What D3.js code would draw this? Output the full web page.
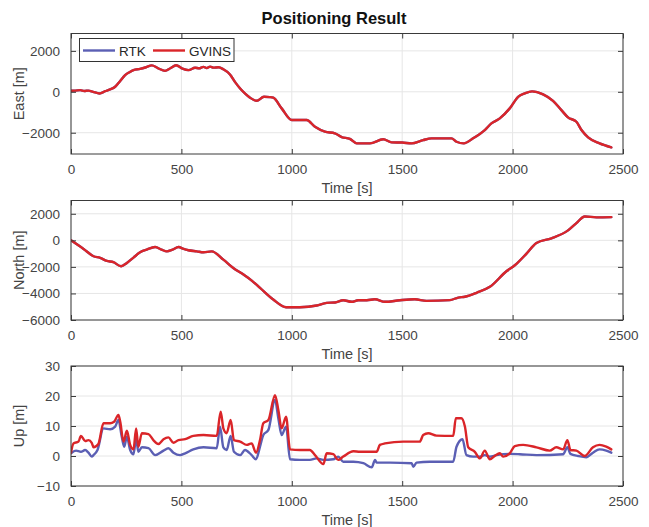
<!DOCTYPE html>
<html>
<head>
<meta charset="utf-8">
<script src="https://cdn.jsdelivr.net/npm/d3@7"></script>
<style>
  html, body { margin: 0; padding: 0; background: #fff; }
  svg { display: block; }
  text { font-family: "Liberation Sans", Arial, Helvetica, sans-serif; }
</style>
</head>
<body>
<svg id="chart" width="649" height="527"></svg>
<script>
// ---- data ------------------------------------------------------------
const timeTicks = [0, 500, 1000, 1500, 2000, 2500];
const eastTicks = [-2000, 0, 2000];
const northTicks = [-6000, -4000, -2000, 0, 2000];
const upTicks = [-10, 0, 10, 20, 30];

const seriesNames = ["RTK", "GVINS"];
const seriesColors = ["#5b5fb4", "#da2529"];

// East [m] (RTK and GVINS tracks coincide at this scale)
const eastTime = [0,20,42,60,79,100,129,155,177,200,222,245,265,283,313,340,366,395,426,450,476,505,532,562,580,600,615,630,645,668,690,720,745,766,790,811,841,874,900,916,954,1000,1067,1105,1150,1195,1226,1263,1294,1354,1414,1452,1500,1542,1595,1633,1723,1746,1779,1821,1874,1904,1942,1987,2025,2055,2088,2138,2183,2221,2251,2289,2312,2342,2394,2447];
const eastRTK = [50,60,80,40,60,0,-80,30,120,245,520,815,960,1060,1120,1200,1290,1150,1025,1150,1300,1130,1060,1175,1150,1220,1160,1230,1180,1200,1100,850,450,165,-100,-290,-440,-245,-260,-290,-810,-1380,-1380,-1710,-1950,-2030,-2210,-2300,-2520,-2520,-2320,-2470,-2480,-2520,-2360,-2275,-2275,-2440,-2520,-2275,-1870,-1545,-1300,-810,-245,-80,20,-125,-440,-895,-1250,-1465,-1870,-2225,-2520,-2715];
const eastGVINS = [50,60,80,40,60,0,-80,30,120,245,520,815,960,1060,1120,1200,1290,1150,1025,1150,1300,1130,1060,1175,1150,1220,1160,1230,1180,1200,1100,850,450,165,-100,-290,-440,-245,-260,-290,-810,-1380,-1380,-1710,-1950,-2030,-2210,-2300,-2520,-2520,-2320,-2470,-2480,-2520,-2360,-2275,-2275,-2440,-2520,-2275,-1870,-1545,-1300,-810,-245,-80,20,-125,-440,-895,-1250,-1465,-1870,-2225,-2520,-2715];

// North [m]
const northTime = [0,57,102,132,162,192,227,253,283,313,343,381,410,434,460,487,510,532,570,600,637,690,735,781,820,856,916,974,1037,1113,1158,1196,1233,1271,1301,1340,1376,1422,1490,1557,1610,1716,1754,1784,1837,1897,1972,2010,2063,2108,2176,2251,2289,2327,2380,2447];
const northRTK = [0,-650,-1200,-1320,-1550,-1650,-1955,-1700,-1300,-900,-700,-500,-700,-830,-700,-500,-650,-750,-830,-900,-830,-1450,-2080,-2580,-3050,-3580,-4460,-5040,-5040,-4910,-4710,-4680,-4510,-4630,-4510,-4510,-4440,-4630,-4510,-4440,-4560,-4500,-4310,-4250,-3950,-3500,-2330,-1880,-1000,-200,150,750,1300,1800,1730,1750];
const northGVINS = [0,-650,-1200,-1320,-1550,-1650,-1955,-1700,-1300,-900,-700,-500,-700,-830,-700,-500,-650,-750,-830,-900,-830,-1450,-2080,-2580,-3050,-3580,-4460,-5040,-5040,-4910,-4710,-4680,-4510,-4630,-4510,-4510,-4440,-4630,-4510,-4440,-4560,-4500,-4310,-4250,-3950,-3500,-2330,-1880,-1000,-200,150,750,1300,1800,1730,1750];

// Up [m]
const upTimeRTK = [0,23,45,64,79,94,102,120,147,177,200,215,230,241,253,268,283,295,305,321,351,381,419,441,464,494,517,554,600,660,675,690,705,723,738,766,788,818,838,856,871,894,924,939,954,974,992,1037,1082,1112,1143,1188,1210,1233,1279,1324,1362,1377,1384,1445,1543,1550,1565,1625,1731,1746,1773,1791,1821,1852,1874,1897,1927,1987,2033,2108,2229,2248,2262,2297,2334,2364,2394,2424,2447];
const upRTK = [0.9,1.8,1.4,2,1.1,-0.2,0.3,2,9.2,8.9,9.8,12,6.4,3.1,6.4,2,0.6,5.9,1.4,2.9,2.6,0.3,1.8,2.6,1.1,0.3,0.9,2.2,2.9,2.6,9.8,2.9,2,6.7,1.4,0.3,2,0.3,-1.1,3.1,7,8.7,18.7,12.6,7,9.8,-1.1,-1.3,-1.3,-0.8,-1.3,-1.1,-0.2,-1.9,-1.9,-2.4,-3.8,-1.3,-2.2,-2.2,-2.4,-3.6,-2.2,-1.9,-1.9,3.1,5.6,0.3,-0.2,-0.2,0.3,-0.2,0.3,0.7,0.6,0.3,0.6,2.9,0.7,0,-0.4,1.1,2.2,1.8,1.1];
const upTimeGVINS = [0,11,34,45,64,79,94,102,124,147,177,195,215,223,238,253,268,283,295,305,321,351,373,396,419,441,464,487,517,554,600,660,678,690,705,723,738,766,796,818,838,856,871,894,924,939,954,974,992,1037,1082,1105,1143,1158,1188,1210,1233,1279,1308,1384,1399,1422,1505,1580,1595,1618,1655,1731,1743,1768,1784,1799,1829,1852,1874,1897,1919,1942,1957,1987,2010,2048,2108,2168,2198,2229,2248,2262,2289,2327,2364,2394,2424,2447];
const upGVINS = [1.1,4.2,4.8,6.7,5,5.3,4.4,2.9,4,10.9,10.9,11.4,13.7,11.4,4.8,8.4,3.7,2.2,9.2,3.1,7.6,7.3,5.3,4,5.6,6.2,4.4,5.3,5.6,6.7,7,6.7,14.8,9.2,7.6,12,5.3,4.8,3.7,4.2,1.1,5.3,10.9,12,20.3,15.3,9.2,13.1,2.2,2,2,0.3,-2.7,0.9,0.6,-1.3,-0.2,1.6,1.4,1.4,3.7,4.2,4.8,4.8,7,7.6,6.8,6.7,12.6,12.6,9.8,2.9,1.4,-0.8,1.8,-1.1,0,0.9,-0.2,0.9,3.3,3.7,2.9,1.8,2.9,2.2,5.3,2,1.8,0,2.9,3.7,3.1,2.2];

// ---- layout ----------------------------------------------------------
const W = 649, H = 527;
const plotLeft = 71, plotRight = 623;
const axisColor = "#3a3a3a", textColor = "#444", gridColor = "#e6e6e6";
const tickLen = 5;

const svg = d3.select("#chart");
svg.append("rect").attr("width", W).attr("height", H).attr("fill", "#fff");

const x = d3.scaleLinear().domain([0, 2500]).range([plotLeft, plotRight]);

const zip = (ts, vs) => ts.map((t, i) => [t, vs[i]]);

const panels = [
  { label: "East [m]", top: 33.5, bottom: 154, domain: [-3040, 2850], ticks: eastTicks,
    series: [zip(eastTime, eastRTK), zip(eastTime, eastGVINS)], legend: true },
  { label: "North [m]", top: 200.5, bottom: 320, domain: [-6000, 3000], ticks: northTicks,
    series: [zip(northTime, northRTK), zip(northTime, northGVINS)] },
  { label: "Up [m]", top: 366, bottom: 486, domain: [-10, 30], ticks: upTicks,
    series: [zip(upTimeRTK, upRTK), zip(upTimeGVINS, upGVINS)] }
];

panels.forEach((p, pi) => {
  const y = d3.scaleLinear().domain(p.domain).range([p.bottom, p.top]);
  const g = svg.append("g");
  const clipId = "clip" + pi;
  svg.append("clipPath").attr("id", clipId)
    .append("rect").attr("x", plotLeft).attr("y", p.top)
    .attr("width", plotRight - plotLeft).attr("height", p.bottom - p.top);

  // grid
  const grid = g.append("g").attr("stroke", gridColor).attr("stroke-width", 1);
  timeTicks.forEach(t => {
    grid.append("line").attr("x1", x(t)).attr("x2", x(t))
      .attr("y1", p.top).attr("y2", p.bottom);
  });
  p.ticks.forEach(v => {
    grid.append("line").attr("x1", plotLeft).attr("x2", plotRight)
      .attr("y1", y(v)).attr("y2", y(v));
  });

  // series
  const line = d3.line().curve(d3.curveMonotoneX).x(d => x(d[0])).y(d => y(d[1]));
  p.series.forEach((data, si) => {
    g.append("path").datum(data)
      .attr("clip-path", `url(#${clipId})`)
      .attr("fill", "none")
      .attr("stroke", seriesColors[si])
      .attr("stroke-width", 2.4)
      .attr("stroke-linejoin", "round")
      .attr("stroke-linecap", "round")
      .attr("d", line);
  });

  // axes: bottom/left with labels, top/right mirrored ticks, all inward
  const xAxisB = d3.axisBottom(x).tickValues(timeTicks).tickSize(-tickLen).tickPadding(10).tickFormat(d3.format("d"));
  const xAxisT = d3.axisTop(x).tickValues(timeTicks).tickSize(-tickLen).tickFormat("");
  const yAxisL = d3.axisLeft(y).tickValues(p.ticks).tickSize(-tickLen).tickPadding(11).tickFormat(d3.format("d"));
  const yAxisR = d3.axisRight(y).tickValues(p.ticks).tickSize(-tickLen).tickFormat("");

  const axes = [
    g.append("g").attr("transform", `translate(0,${p.bottom})`).call(xAxisB),
    g.append("g").attr("transform", `translate(0,${p.top})`).call(xAxisT),
    g.append("g").attr("transform", `translate(${plotLeft},0)`).call(yAxisL),
    g.append("g").attr("transform", `translate(${plotRight},0)`).call(yAxisR)
  ];
  axes.forEach(a => {
    a.select(".domain").remove();
    a.selectAll(".tick line").attr("stroke", axisColor);
    a.selectAll(".tick text").attr("fill", textColor)
      .style("font-size", "13.5px").style("font-family", '"Liberation Sans", Arial, sans-serif');
  });
  // plot frame
  g.append("rect").attr("x", plotLeft).attr("y", p.top)
    .attr("width", plotRight - plotLeft).attr("height", p.bottom - p.top)
    .attr("fill", "none").attr("stroke", axisColor).attr("stroke-width", 1);

  // axis labels
  g.append("text").attr("x", (plotLeft + plotRight) / 2).attr("y", p.bottom + 39)
    .attr("text-anchor", "middle").attr("fill", textColor).style("font-size", "14.5px")
    .text("Time [s]");
  g.append("text")
    .attr("transform", `translate(24,${(p.top + p.bottom) / 2}) rotate(-90)`)
    .attr("text-anchor", "middle").attr("fill", textColor).style("font-size", "14.5px")
    .text(p.label);

  if (p.legend) {
    const lg = g.append("g");
    lg.append("rect").attr("x", 79.5).attr("y", 38.5).attr("width", 154.5).attr("height", 23)
      .attr("fill", "#fff").attr("stroke", "#333").attr("stroke-width", 1);
    const items = [{ x1: 83, x2: 115, tx: 119 }, { x1: 153, x2: 185, tx: 189 }];
    items.forEach((it, i) => {
      lg.append("line").attr("x1", it.x1).attr("x2", it.x2).attr("y1", 50.5).attr("y2", 50.5)
        .attr("stroke", seriesColors[i]).attr("stroke-width", 2.4);
      lg.append("text").attr("x", it.tx).attr("y", 55.5).attr("fill", "#262626")
        .style("font-size", "13.5px").text(seriesNames[i]);
    });
  }
});

svg.append("text").attr("x", 334).attr("y", 24).attr("text-anchor", "middle")
  .attr("fill", "#111").style("font-size", "16.5px").style("font-weight", "bold")
  .text("Positioning Result");
</script>
</body>
</html>
